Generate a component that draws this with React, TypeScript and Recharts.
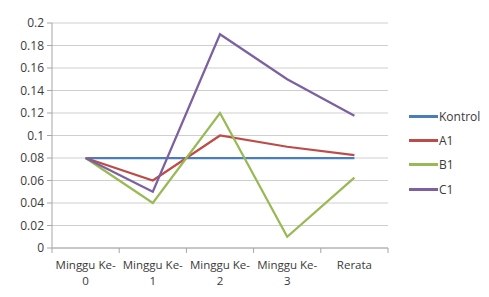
import { LineChart, Line, XAxis, YAxis, CartesianGrid } from "recharts";

const categories = ["Minggu Ke-|0", "Minggu Ke-|1", "Minggu Ke-|2", "Minggu Ke-|3", "Rerata"];
const kontrol = [0.08, 0.08, 0.08, 0.08, 0.08];
const a1 = [0.08, 0.06, 0.1, 0.09, 0.0825];
const b1 = [0.08, 0.04, 0.12, 0.01, 0.0625];
const c1 = [0.08, 0.05, 0.19, 0.15, 0.1175];
const yTicks = [0, 0.02, 0.04, 0.06, 0.08, 0.1, 0.12, 0.14, 0.16, 0.18, 0.2];

const series = [
  { key: "Kontrol", values: kontrol, color: "#4a7ebb" },
  { key: "A1", values: a1, color: "#be4b48" },
  { key: "B1", values: b1, color: "#98b954" },
  { key: "C1", values: c1, color: "#7d60a0" },
];

const data = categories.map((c, i) => {
  const row: any = { x: i + 0.5, name: c };
  series.forEach((s) => (row[s.key] = s.values[i]));
  return row;
});

const xTicks: number[] = [];
for (let i = 0; i <= categories.length * 2; i++) xTicks.push(i / 2);

const font = "'Open Sans', sans-serif";
const textColor = "#3a3a3a";

function XTick(props: any) {
  const { x, y, payload } = props;
  const v = payload.value;
  if (Number.isInteger(v)) {
    return <line x1={x} x2={x} y1={y - 8} y2={y - 3} stroke="#a6a6a6" />;
  }
  const label = categories[Math.floor(v)] || "";
  const lines = label.split("|");
  return (
    <g>
      {lines.map((l, i) => (
        <text
          key={i}
          x={x}
          y={y + 13 + i * 15.5}
          textAnchor="middle"
          fill={textColor}
          fontSize={11.5}
          fontFamily={font}
        >
          {l}
        </text>
      ))}
    </g>
  );
}

function ChartLegend() {
  return (
    <div
      style={{
        position: "absolute",
        left: 401,
        top: 96,
        fontFamily: font,
        fontSize: 12,
        color: textColor,
      }}
    >
      {series.map((s) => (
        <div key={s.key} style={{ display: "flex", alignItems: "center", height: 24.3 }}>
          <div style={{ width: 29, height: 3, background: s.color, marginRight: 1 }} />
          <span>{s.key}</span>
        </div>
      ))}
    </div>
  );
}

export default function App() {
  return (
    <div
      style={{
        position: "relative",
        left: -1,
        top: -1,
        width: 490,
        height: 300,
        borderTop: "1px solid #8c8c8c",
        borderLeft: "1px solid #8c8c8c",
        background: "#fff",
      }}
    >
      <LineChart width={482} height={290} data={data} margin={{ top: 15, right: 102, bottom: 15, left: 0 }}>
        <CartesianGrid vertical={false} stroke="#cfcfcf" strokeWidth={1} />
        <XAxis
          dataKey="x"
          type="number"
          domain={[0, categories.length]}
          ticks={xTicks}
          interval={0}
          tickLine={false}
          stroke="#a6a6a6"
          height={35}
          tick={<XTick />}
        />
        <YAxis
          domain={[0, 0.2]}
          ticks={yTicks}
          interval={0}
          width={44}
          stroke="#a6a6a6"
          tickSize={5}
          tickMargin={3}
          tick={{ fill: textColor, fontSize: 12, fontFamily: font }}
        />
        {series.map((s) => (
          <Line
            key={s.key}
            dataKey={s.key}
            stroke={s.color}
            strokeWidth={2.25}
            dot={false}
            activeDot={false}
            isAnimationActive={false}
          />
        ))}
      </LineChart>
      <ChartLegend />
    </div>
  );
}
